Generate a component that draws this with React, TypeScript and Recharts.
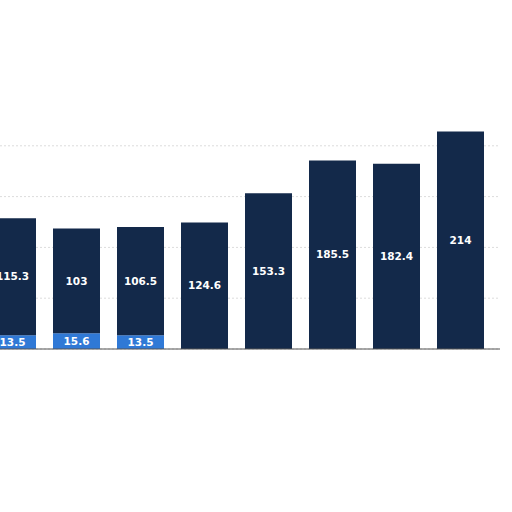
import React from 'react';
import {
    BarChart,
    Bar,
    XAxis,
    YAxis,
    CartesianGrid,
    ReferenceLine,
    LabelList
} from 'recharts';

const categories: string[] = ['c1', 'c2', 'c3', 'c4', 'c5', 'c6', 'c7', 'c8'];
const mainValues: number[] = [115.3, 103, 106.5, 124.6, 153.3, 185.5, 182.4, 214];
const extraValues: (number | null)[] = [13.5, 15.6, 13.5, null, null, null, null, null];
const yTicks: number[] = [0, 50, 100, 150, 200];

const data = categories.map((name, i) => ({
    name,
    main: mainValues[i],
    extra: extraValues[i],
}));

const labelStyle = {
    fill: '#ffffff',
    fontSize: 10.5,
    fontWeight: 700,
    fontFamily: 'DejaVu Sans, sans-serif',
};

const App: React.FC = () => {
    return (
        <div style={{ position: 'absolute', left: -20, top: 0, width: 520, height: 360 }}>
            <BarChart
                width={520}
                height={360}
                data={data}
                margin={{ top: 95, right: 0, left: 0, bottom: 11 }}
                barSize={47}
            >
                <CartesianGrid vertical={false} syncWithTicks stroke="#dcdcdc" strokeDasharray="2 2" />
                <XAxis dataKey="name" hide padding={{ left: 0, right: 8 }} />
                <YAxis hide domain={[0, 250]} ticks={yTicks} />
                <Bar dataKey="extra" stackId="a" fill="#3079d6" isAnimationActive={false}>
                    <LabelList dataKey="extra" position="center" style={labelStyle} />
                </Bar>
                <Bar dataKey="main" stackId="a" fill="#13294a" isAnimationActive={false}>
                    <LabelList dataKey="main" position="center" style={labelStyle} />
                </Bar>
                <ReferenceLine y={0} stroke="#555555" strokeWidth={1} />
            </BarChart>
        </div>
    );
};

export default App;
